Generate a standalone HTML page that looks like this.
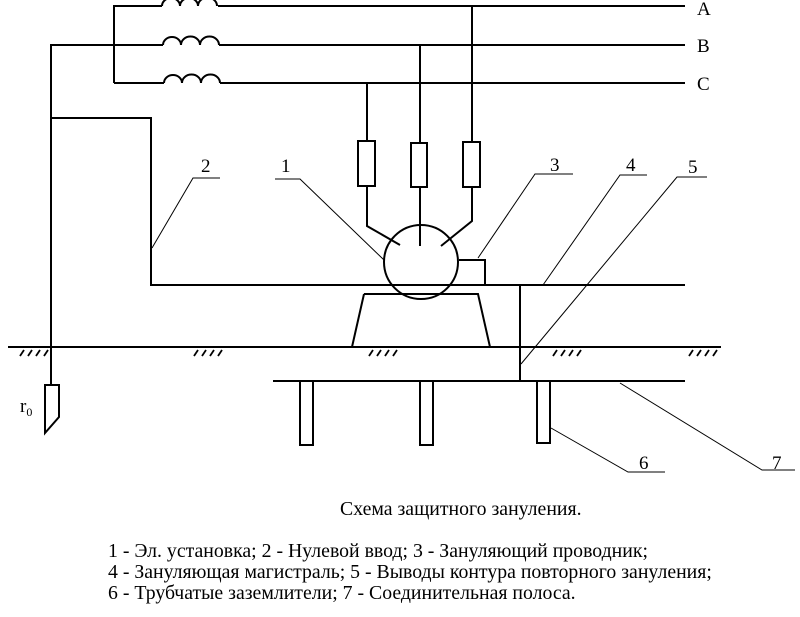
<!DOCTYPE html>
<html><head><meta charset="utf-8"><style>
html,body{margin:0;padding:0;background:#fff;}
svg{display:block;}
text{font-family:"Liberation Serif","DejaVu Serif",serif;fill:#000;}
</style></head><body>
<svg width="800" height="617" viewBox="0 0 800 617" xmlns="http://www.w3.org/2000/svg">
<g fill="none" stroke="#000" stroke-width="2">
<path d="M114,83 V6 H162 M218,6 H685"/>
<path d="M162,6 a9,8 0 0 1 18,0 a9,8 0 0 1 18,0 a9,8 0 0 1 19,0"/>
<path d="M51,347 V45 H163 M219,45 H685"/>
<path d="M163,45 a9,8 0 0 1 18,0 a9,8 0 0 1 19,0 a9,8 0 0 1 19,0"/>
<path d="M114,83 H164 M220,83 H685"/>
<path d="M164,83 a9,8 0 0 1 18,0 a9,8 0 0 1 19,0 a9,8 0 0 1 19,0"/>
<path d="M51,118 H151 V285 H685"/>
<path d="M367,83 V226 L400,245"/>
<path d="M420,45 V246"/>
<path d="M472,6 V221 L441,246"/>
<rect x="358" y="141" width="17" height="45" fill="#fff"/>
<rect x="411" y="143" width="16" height="44" fill="#fff"/>
<rect x="463" y="142" width="17" height="45" fill="#fff"/>
<circle cx="421" cy="262" r="37"/>
<path d="M459,260 H485 V285"/>
<path d="M364,294 H478 L490,347 M364,294 L352,347"/>
<path d="M8,347 H721"/>
<path d="M51,347 V385"/>
<path d="M45,385 H59 V417 L45,433 Z"/>
<path d="M520,285 V381 M273,381 H685"/>
<rect x="300" y="381" width="13" height="64"/>
<rect x="420" y="381" width="13" height="64"/>
<rect x="537" y="381" width="13" height="62"/>
</g>
<g stroke="#000" stroke-width="1.8">
<path d="M20,356 l4,-6 M28,356 l4,-6 M36,356 l4,-6 M44,356 l4,-6"/>
<path d="M194,356 l4,-6 M202,356 l4,-6 M210,356 l4,-6 M218,356 l4,-6"/>
<path d="M369,356 l4,-6 M377,356 l4,-6 M385,356 l4,-6 M393,356 l4,-6"/>
<path d="M553,356 l4,-6 M561,356 l4,-6 M569,356 l4,-6 M577,356 l4,-6"/>
<path d="M689,356 l4,-6 M697,356 l4,-6 M705,356 l4,-6 M713,356 l4,-6"/>
</g>
<g fill="none" stroke="#000" stroke-width="1">
<path d="M220,178 H193 L152,248"/>
<path d="M275,179 H300 L384,260"/>
<path d="M573,174 H535 L478,258"/>
<path d="M647,175 H620 L543,285"/>
<path d="M707,177 H677 L521,364"/>
<path d="M551,428 L628,472 H665"/>
<path d="M620,383 L762,470 H795"/>
</g>
<g font-size="19">
<text x="697" y="15">A</text>
<text x="697" y="52">B</text>
<text x="697" y="90">C</text>
<text x="201" y="172">2</text>
<text x="281" y="172">1</text>
<text x="550" y="171">3</text>
<text x="626" y="171">4</text>
<text x="688" y="173">5</text>
<text x="639" y="469">6</text>
<text x="772" y="469">7</text>
<text x="20" y="412">r<tspan font-size="12" dy="4">0</tspan></text>
</g>
<g font-size="19.8">
<text x="340" y="515">Схема защитного зануления.</text>
<text x="108" y="557">1 - Эл. установка; 2 - Нулевой ввод; 3 - Зануляющий проводник;</text>
<text x="108" y="578">4 - Зануляющая магистраль; 5 - Выводы контура повторного зануления;</text>
<text x="108" y="599">6 - Трубчатые заземлители; 7 - Соединительная полоса.</text>
</g>
</svg>
</body></html>
